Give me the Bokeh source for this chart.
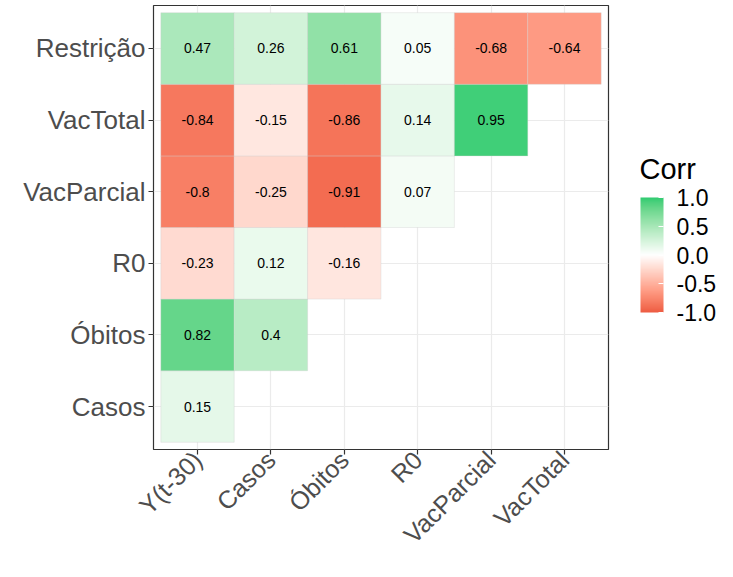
import math
import numpy as np
from bokeh.plotting import figure
from bokeh.models import (ColumnDataSource, FactorRange, LinearColorMapper, ColorBar,
                          FixedTicker, PrintfTickFormatter)
from bokeh.core.properties import value
from bokeh.embed import file_html
from bokeh.resources import INLINE

# ---------------- data ----------------
x_vars = ["Y(t-30)", "Casos", "Óbitos", "R0", "VacParcial", "VacTotal"]
y_vars = ["Casos", "Óbitos", "R0", "VacParcial", "VacTotal", "Restrição"]

corr_casos = [0.15]
corr_obitos = [0.82, 0.4]
corr_r0 = [-0.23, 0.12, -0.16]
corr_vacparcial = [-0.8, -0.25, -0.91, 0.07]
corr_vactotal = [-0.84, -0.15, -0.86, 0.14, 0.95]
corr_restricao = [0.47, 0.26, 0.61, 0.05, -0.68, -0.64]

legend_title = "Corr"
legend_ticks = [-1.0, -0.5, 0.0, 0.5, 1.0]
low_color, mid_color, high_color = "#EE5C42", "#FFFFFF", "#2ECC71"

rows = [corr_casos, corr_obitos, corr_r0, corr_vacparcial, corr_vactotal, corr_restricao]
xs, ys, vs, labels = [], [], [], []
for yname, row in zip(y_vars, rows):
    for xname, v in zip(x_vars, row):
        xs.append(xname)
        ys.append(yname)
        vs.append(v)
        labels.append(str(v))
src = ColumnDataSource(dict(x=xs, y=ys, v=vs, label=labels))


# ------------- Lab colour interpolation (like scale_fill_gradient2) -------------
def hex_to_rgb(h):
    h = h.lstrip("#")
    return np.array([int(h[i:i + 2], 16) / 255.0 for i in (0, 2, 4)])


WHITE = np.array([0.95047, 1.0, 1.08883])
M = np.array([[0.4124564, 0.3575761, 0.1804375],
              [0.2126729, 0.7151522, 0.0721750],
              [0.0193339, 0.1191920, 0.9503041]])
Minv = np.linalg.inv(M)


def rgb_to_lab(rgb):
    lin = np.where(rgb <= 0.04045, rgb / 12.92, ((rgb + 0.055) / 1.055) ** 2.4)
    xyz = M @ lin / WHITE
    f = np.where(xyz > (6 / 29) ** 3, np.cbrt(xyz), xyz / (3 * (6 / 29) ** 2) + 4 / 29)
    return np.array([116 * f[1] - 16, 500 * (f[0] - f[1]), 200 * (f[1] - f[2])])


def lab_to_hex(lab):
    L, a, b = lab
    fy = (L + 16) / 116
    fx = fy + a / 500
    fz = fy - b / 200
    f = np.array([fx, fy, fz])
    xyz = np.where(f > 6 / 29, f ** 3, 3 * (6 / 29) ** 2 * (f - 4 / 29)) * WHITE
    lin = Minv @ xyz
    lin = np.clip(lin, 0, 1)
    rgb = np.where(lin <= 0.0031308, 12.92 * lin, 1.055 * lin ** (1 / 2.4) - 0.055)
    rgb = np.clip(np.round(rgb * 255), 0, 255).astype(int)
    return "#%02x%02x%02x" % tuple(rgb)


lab_low = rgb_to_lab(hex_to_rgb(low_color))
lab_mid = rgb_to_lab(hex_to_rgb(mid_color))
lab_high = rgb_to_lab(hex_to_rgb(high_color))
palette = []
for t in np.linspace(-1, 1, 256):
    if t < 0:
        lab = lab_mid + (lab_low - lab_mid) * (-t)
    else:
        lab = lab_mid + (lab_high - lab_mid) * t
    palette.append(lab_to_hex(lab))

mapper = LinearColorMapper(palette=palette, low=-1, high=1)

# ---------------- figure ----------------
FONT = "Liberation Sans"
p = figure(
    width=717, height=561,
    x_range=FactorRange(factors=x_vars, range_padding=0.1, range_padding_units="absolute"),
    y_range=FactorRange(factors=y_vars, range_padding=0.1, range_padding_units="absolute"),
    output_backend="svg", toolbar_location=None,
    min_border_left=153, min_border_right=109, min_border_top=5, min_border_bottom=100,
)
p.background_fill_color = "white"
p.border_fill_color = "white"
p.outline_line_color = "#333333"
p.outline_line_width = 1.2

p.grid.grid_line_color = "#EBEBEB"
p.grid.grid_line_width = 1.2

p.rect(x="x", y="y", width=1, height=1, source=src,
       fill_color={"field": "v", "transform": mapper},
       line_color="#CFCFCF", line_alpha=0.6, line_width=0.6)

p.text(x="x", y="y", text="label", source=src, text_align="center",
       text_baseline="middle", text_font=value(FONT), text_font_size="14px",
       text_color="black")

for ax in (p.xaxis, p.yaxis):
    ax.axis_line_color = None
    ax.major_tick_line_color = "#333333"
    ax.major_tick_line_width = 1.2
    ax.major_tick_out = 5
    ax.major_tick_in = 0
    ax.minor_tick_line_color = None
    ax.major_label_text_font = FONT
    ax.major_label_text_font_size = "26px"
    ax.major_label_text_color = "#4D4D4D"
    ax.major_label_standoff = 3

p.xaxis.major_label_orientation = math.pi / 4
p.xaxis.major_label_standoff = 1
p.xaxis.major_label_text_font_size = "25px"

# colour scale bar
cb = ColorBar(
    color_mapper=mapper, orientation="vertical",
    ticker=FixedTicker(ticks=legend_ticks),
    formatter=PrintfTickFormatter(format="%.1f"),
    width=23, height=115,
    major_label_text_font=FONT, major_label_text_font_size="23px",
    major_label_text_color="black", label_standoff=13,
    major_tick_line_color="white", major_tick_in=5, major_tick_out=0,
    minor_tick_line_color=None, bar_line_color=None,
    padding=0, location=(487, 137),
    background_fill_color=None, border_line_color=None,
)
p.add_layout(cb, "center")

# legend title, drawn horizontally above the bar (as the title of an empty bar)
cb_title = ColorBar(
    color_mapper=mapper, orientation="horizontal", width=60, height=1,
    scale_alpha=0, ticker=FixedTicker(ticks=[]),
    major_label_text_alpha=0, major_tick_line_color=None, minor_tick_line_color=None,
    bar_line_color=None, border_line_color=None, background_fill_color=None,
    title=legend_title, title_text_font=FONT, title_text_font_size="29px",
    title_text_font_style="normal", title_text_color="black", title_standoff=0,
    padding=0, location=(486, 264),
)
p.add_layout(cb_title, "center")

open("out.html", "w").write(file_html(p, INLINE))
